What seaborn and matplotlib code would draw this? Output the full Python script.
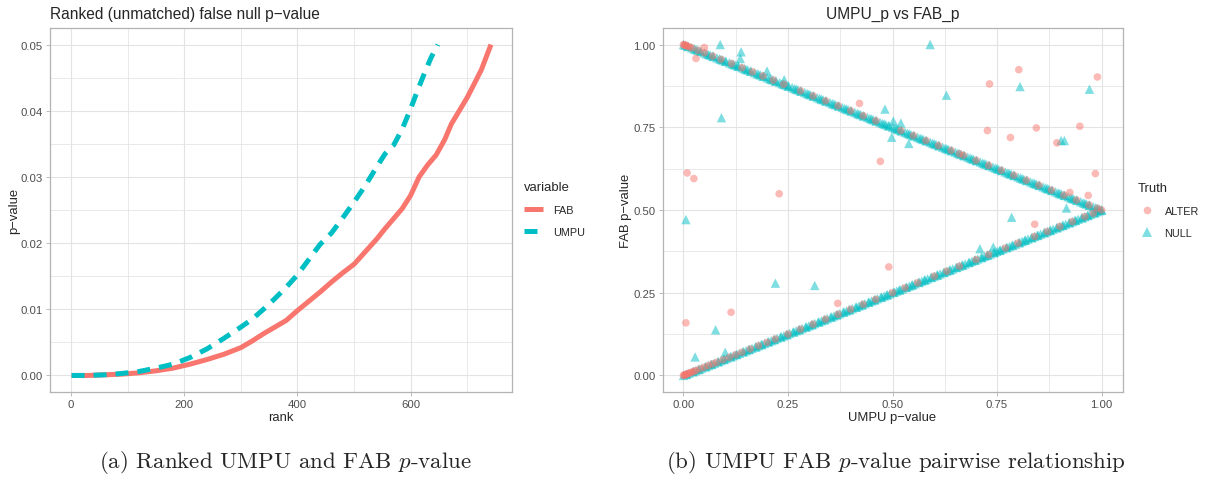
import matplotlib
matplotlib.use("Agg")
import matplotlib.pyplot as plt
import pandas as pd
import seaborn as sns
from matplotlib.lines import Line2D
from matplotlib.ticker import FixedLocator

sns.set_theme(style="whitegrid")
plt.rcParams["font.family"] = ["Liberation Sans", "DejaVu Sans"]
plt.rcParams["mathtext.fontset"] = "cm"
plt.rcParams["axes.unicode_minus"] = True

RED = "#F8766D"
TEAL = "#00BFC4"
GRID = "#E3E3E3"
BORDER = "#B3B3B3"
TICKTXT = "#4D4D4D"

# ---- ranked (unmatched) false-null p-values ----
fab_rank = [1, 30, 60, 90, 120, 150, 180, 210, 240, 270, 300, 320, 340, 360, 380,
            400, 420, 440, 460, 480, 500, 520, 540, 555, 570, 585, 600, 615, 630,
            645, 660, 672, 686, 700, 712, 725, 742]
fab_p = [0.0000, 0.0000, 0.0001, 0.0002, 0.0004, 0.0007, 0.0011, 0.0017, 0.0024,
         0.0032, 0.0042, 0.0052, 0.0063, 0.0073, 0.0083, 0.0098, 0.0112, 0.0126,
         0.0141, 0.0155, 0.0168, 0.0187, 0.0206, 0.0222, 0.0237, 0.0252, 0.0272,
         0.0300, 0.0318, 0.0333, 0.0356, 0.0380, 0.0400, 0.0420, 0.0440, 0.0462,
         0.0500]
umpu_rank = [1, 30, 60, 90, 120, 150, 180, 210, 240, 270, 300, 320, 340, 360, 380,
             400, 420, 440, 460, 480, 500, 520, 540, 555, 570, 585, 600, 612, 625,
             636, 648]
umpu_p = [0.0000, 0.0000, 0.0001, 0.0003, 0.0006, 0.0011, 0.0017, 0.0027, 0.0040,
          0.0056, 0.0073, 0.0085, 0.0100, 0.0116, 0.0133, 0.0152, 0.0175, 0.0198,
          0.0215, 0.0238, 0.0262, 0.0287, 0.0315, 0.0335, 0.0348, 0.0372, 0.0403,
          0.0430, 0.0458, 0.0480, 0.0500]

# ---- UMPU vs FAB p-values, (umpu, fab) pairs ----
null_upper = [
    (0.000, 1.000), (0.004, 0.998), (0.010, 0.995), (0.012, 0.994), (0.020, 0.990), (0.026, 0.987),
    (0.030, 0.985), (0.034, 0.983), (0.040, 0.980), (0.042, 0.979), (0.050, 0.975), (0.056, 0.972),
    (0.060, 0.970), (0.064, 0.968), (0.070, 0.965), (0.072, 0.964), (0.080, 0.960), (0.086, 0.957),
    (0.090, 0.955), (0.094, 0.953), (0.100, 0.950), (0.102, 0.949), (0.110, 0.945), (0.116, 0.942),
    (0.120, 0.940), (0.124, 0.938), (0.130, 0.935), (0.132, 0.934), (0.140, 0.930), (0.146, 0.927),
    (0.150, 0.925), (0.154, 0.923), (0.160, 0.920), (0.162, 0.919), (0.170, 0.915), (0.176, 0.912),
    (0.180, 0.910), (0.184, 0.908), (0.190, 0.905), (0.192, 0.904), (0.200, 0.900), (0.206, 0.897),
    (0.210, 0.895), (0.214, 0.893), (0.220, 0.890), (0.222, 0.889), (0.230, 0.885), (0.236, 0.882),
    (0.240, 0.880), (0.244, 0.878), (0.250, 0.875), (0.252, 0.874), (0.260, 0.870), (0.266, 0.867),
    (0.270, 0.865), (0.274, 0.863), (0.280, 0.860), (0.282, 0.859), (0.290, 0.855), (0.296, 0.852),
    (0.300, 0.850), (0.304, 0.848), (0.310, 0.845), (0.312, 0.844), (0.320, 0.840), (0.326, 0.837),
    (0.330, 0.835), (0.334, 0.833), (0.340, 0.830), (0.342, 0.829), (0.350, 0.825), (0.356, 0.822),
    (0.360, 0.820), (0.364, 0.818), (0.370, 0.815), (0.372, 0.814), (0.380, 0.810), (0.386, 0.807),
    (0.390, 0.805), (0.394, 0.803), (0.400, 0.800), (0.402, 0.799), (0.410, 0.795), (0.416, 0.792),
    (0.420, 0.790), (0.424, 0.788), (0.430, 0.785), (0.432, 0.784), (0.440, 0.780), (0.446, 0.777),
    (0.450, 0.775), (0.454, 0.773), (0.460, 0.770), (0.462, 0.769), (0.470, 0.765), (0.476, 0.762),
    (0.480, 0.760), (0.484, 0.758), (0.490, 0.755), (0.492, 0.754), (0.500, 0.750), (0.506, 0.747),
    (0.510, 0.745), (0.514, 0.743), (0.520, 0.740), (0.522, 0.739), (0.530, 0.735), (0.536, 0.732),
    (0.540, 0.730), (0.544, 0.728), (0.550, 0.725), (0.552, 0.724), (0.560, 0.720), (0.566, 0.717),
    (0.570, 0.715), (0.574, 0.713), (0.580, 0.710), (0.582, 0.709), (0.590, 0.705), (0.596, 0.702),
    (0.600, 0.700), (0.604, 0.698), (0.610, 0.695), (0.612, 0.694), (0.620, 0.690), (0.626, 0.687),
    (0.630, 0.685), (0.634, 0.683), (0.640, 0.680), (0.642, 0.679), (0.650, 0.675), (0.656, 0.672),
    (0.660, 0.670), (0.664, 0.668), (0.670, 0.665), (0.672, 0.664), (0.680, 0.660), (0.686, 0.657),
    (0.690, 0.655), (0.694, 0.653), (0.700, 0.650), (0.702, 0.649), (0.710, 0.645), (0.716, 0.642),
    (0.720, 0.640), (0.724, 0.638), (0.730, 0.635), (0.732, 0.634), (0.740, 0.630), (0.746, 0.627),
    (0.750, 0.625), (0.754, 0.623), (0.760, 0.620), (0.762, 0.619), (0.770, 0.615), (0.776, 0.612),
    (0.780, 0.610), (0.784, 0.608), (0.790, 0.605), (0.792, 0.604), (0.800, 0.600), (0.806, 0.597),
    (0.810, 0.595), (0.814, 0.593), (0.820, 0.590), (0.822, 0.589), (0.830, 0.585), (0.836, 0.582),
    (0.840, 0.580), (0.844, 0.578), (0.850, 0.575), (0.852, 0.574), (0.860, 0.570), (0.866, 0.567),
    (0.870, 0.565), (0.874, 0.563), (0.880, 0.560), (0.882, 0.559), (0.890, 0.555), (0.896, 0.552),
    (0.900, 0.550), (0.904, 0.548), (0.910, 0.545), (0.912, 0.544), (0.920, 0.540), (0.926, 0.537),
    (0.930, 0.535), (0.934, 0.533), (0.940, 0.530), (0.942, 0.529), (0.950, 0.525), (0.956, 0.522),
    (0.960, 0.520), (0.964, 0.518), (0.970, 0.515), (0.972, 0.514), (0.980, 0.510), (0.986, 0.507),
    (0.990, 0.505), (0.994, 0.503), (1.000, 0.500),
]
null_lower = [
    (0.000, 0.000), (0.006, 0.003), (0.008, 0.004), (0.014, 0.007), (0.022, 0.011), (0.024, 0.012),
    (0.030, 0.015), (0.036, 0.018), (0.038, 0.019), (0.044, 0.022), (0.052, 0.026), (0.054, 0.027),
    (0.060, 0.030), (0.066, 0.033), (0.068, 0.034), (0.074, 0.037), (0.082, 0.041), (0.084, 0.042),
    (0.090, 0.045), (0.096, 0.048), (0.098, 0.049), (0.104, 0.052), (0.112, 0.056), (0.114, 0.057),
    (0.120, 0.060), (0.126, 0.063), (0.128, 0.064), (0.134, 0.067), (0.142, 0.071), (0.144, 0.072),
    (0.150, 0.075), (0.156, 0.078), (0.158, 0.079), (0.164, 0.082), (0.172, 0.086), (0.174, 0.087),
    (0.180, 0.090), (0.186, 0.093), (0.188, 0.094), (0.194, 0.097), (0.202, 0.101), (0.204, 0.102),
    (0.210, 0.105), (0.216, 0.108), (0.218, 0.109), (0.224, 0.112), (0.232, 0.116), (0.234, 0.117),
    (0.240, 0.120), (0.246, 0.123), (0.248, 0.124), (0.254, 0.127), (0.262, 0.131), (0.264, 0.132),
    (0.270, 0.135), (0.276, 0.138), (0.278, 0.139), (0.284, 0.142), (0.292, 0.146), (0.294, 0.147),
    (0.300, 0.150), (0.306, 0.153), (0.308, 0.154), (0.314, 0.157), (0.322, 0.161), (0.324, 0.162),
    (0.330, 0.165), (0.336, 0.168), (0.338, 0.169), (0.344, 0.172), (0.352, 0.176), (0.354, 0.177),
    (0.360, 0.180), (0.366, 0.183), (0.368, 0.184), (0.374, 0.187), (0.382, 0.191), (0.384, 0.192),
    (0.390, 0.195), (0.396, 0.198), (0.398, 0.199), (0.404, 0.202), (0.412, 0.206), (0.414, 0.207),
    (0.420, 0.210), (0.426, 0.213), (0.428, 0.214), (0.434, 0.217), (0.442, 0.221), (0.444, 0.222),
    (0.450, 0.225), (0.456, 0.228), (0.458, 0.229), (0.464, 0.232), (0.472, 0.236), (0.474, 0.237),
    (0.480, 0.240), (0.486, 0.243), (0.488, 0.244), (0.494, 0.247), (0.502, 0.251), (0.504, 0.252),
    (0.510, 0.255), (0.516, 0.258), (0.518, 0.259), (0.524, 0.262), (0.532, 0.266), (0.534, 0.267),
    (0.540, 0.270), (0.546, 0.273), (0.548, 0.274), (0.554, 0.277), (0.562, 0.281), (0.564, 0.282),
    (0.570, 0.285), (0.576, 0.288), (0.578, 0.289), (0.584, 0.292), (0.592, 0.296), (0.594, 0.297),
    (0.600, 0.300), (0.606, 0.303), (0.608, 0.304), (0.614, 0.307), (0.622, 0.311), (0.624, 0.312),
    (0.630, 0.315), (0.636, 0.318), (0.638, 0.319), (0.644, 0.322), (0.652, 0.326), (0.654, 0.327),
    (0.660, 0.330), (0.666, 0.333), (0.668, 0.334), (0.674, 0.337), (0.682, 0.341), (0.684, 0.342),
    (0.690, 0.345), (0.696, 0.348), (0.698, 0.349), (0.704, 0.352), (0.712, 0.356), (0.714, 0.357),
    (0.720, 0.360), (0.726, 0.363), (0.728, 0.364), (0.734, 0.367), (0.742, 0.371), (0.744, 0.372),
    (0.750, 0.375), (0.756, 0.378), (0.758, 0.379), (0.764, 0.382), (0.772, 0.386), (0.774, 0.387),
    (0.780, 0.390), (0.786, 0.393), (0.788, 0.394), (0.794, 0.397), (0.802, 0.401), (0.804, 0.402),
    (0.810, 0.405), (0.816, 0.408), (0.818, 0.409), (0.824, 0.412), (0.832, 0.416), (0.834, 0.417),
    (0.840, 0.420), (0.846, 0.423), (0.848, 0.424), (0.854, 0.427), (0.862, 0.431), (0.864, 0.432),
    (0.870, 0.435), (0.876, 0.438), (0.878, 0.439), (0.884, 0.442), (0.892, 0.446), (0.894, 0.447),
    (0.900, 0.450), (0.906, 0.453), (0.908, 0.454), (0.914, 0.457), (0.922, 0.461), (0.924, 0.462),
    (0.930, 0.465), (0.936, 0.468), (0.938, 0.469), (0.944, 0.472), (0.952, 0.476), (0.954, 0.477),
    (0.960, 0.480), (0.966, 0.483), (0.968, 0.484), (0.974, 0.487), (0.982, 0.491), (0.984, 0.492),
    (0.990, 0.495), (0.996, 0.498), (1.000, 0.500),
]
null_scatter = [
    (0.088, 1.000), (0.138, 0.978), (0.136, 0.958), (0.091, 0.779), (0.200, 0.920),
    (0.241, 0.894), (0.482, 0.805), (0.498, 0.720), (0.502, 0.769), (0.520, 0.763),
    (0.539, 0.701), (0.590, 1.000), (0.805, 0.873), (0.971, 0.865), (0.629, 0.847),
    (0.903, 0.710), (0.911, 0.710), (0.006, 0.471), (0.077, 0.138), (0.028, 0.056),
    (0.100, 0.070), (0.220, 0.279), (0.314, 0.272), (0.785, 0.478), (0.916, 0.506),
    (0.709, 0.383), (0.741, 0.388),
]
alter_upper = [
    (0.000, 1.000), (0.002, 0.999), (0.004, 0.998), (0.007, 0.9965), (0.010, 0.995),
    (0.015, 0.9925), (0.02, 0.990), (0.035, 0.9825), (0.05, 0.975), (0.07, 0.965),
    (0.09, 0.955), (0.115, 0.9425), (0.14, 0.930), (0.165, 0.9175), (0.19, 0.905),
    (0.215, 0.8925), (0.24, 0.880), (0.28, 0.860), (0.31, 0.845), (0.34, 0.830),
    (0.37, 0.815), (0.40, 0.800), (0.43, 0.785), (0.46, 0.770), (0.52, 0.740),
    (0.55, 0.725), (0.58, 0.710), (0.61, 0.695), (0.64, 0.680), (0.66, 0.670),
    (0.67, 0.665), (0.70, 0.650), (0.73, 0.635), (0.76, 0.620), (0.79, 0.605),
    (0.82, 0.590), (0.85, 0.575), (0.88, 0.560), (0.91, 0.545), (0.94, 0.530),
    (0.97, 0.515), (0.99, 0.505),
]
alter_lower = [
    (0.000, 0.000), (0.002, 0.001), (0.004, 0.002), (0.006, 0.003), (0.009, 0.0045),
    (0.012, 0.006), (0.016, 0.008), (0.02, 0.010), (0.025, 0.0125), (0.03, 0.015),
    (0.04, 0.020), (0.05, 0.025), (0.06, 0.030), (0.07, 0.035), (0.08, 0.040),
    (0.095, 0.0475), (0.11, 0.055), (0.125, 0.0625), (0.14, 0.070), (0.16, 0.080),
    (0.18, 0.090), (0.20, 0.100), (0.22, 0.110), (0.25, 0.125), (0.28, 0.140),
    (0.31, 0.155), (0.34, 0.170), (0.37, 0.185), (0.40, 0.200), (0.43, 0.215),
    (0.46, 0.230), (0.50, 0.250), (0.53, 0.265), (0.56, 0.280), (0.60, 0.300),
    (0.63, 0.315), (0.66, 0.330), (0.70, 0.350), (0.73, 0.365), (0.77, 0.385),
    (0.80, 0.400), (0.84, 0.420), (0.87, 0.435), (0.90, 0.450), (0.93, 0.465),
    (0.96, 0.480), (0.98, 0.490), (1.00, 0.500),
]
alter_scatter = [
    (0.030, 0.958), (0.050, 0.991), (0.421, 0.822), (0.471, 0.647), (0.009, 0.612),
    (0.025, 0.595), (0.229, 0.549), (0.802, 0.924), (0.990, 0.902), (0.732, 0.881),
    (0.727, 0.740), (0.782, 0.719), (0.844, 0.748), (0.893, 0.703), (0.948, 0.753),
    (0.985, 0.610), (0.924, 0.553), (0.968, 0.544), (0.006, 0.159), (0.114, 0.191),
    (0.369, 0.218), (0.491, 0.328), (0.840, 0.457),
]

line_df = pd.concat([
    pd.DataFrame({"rank": fab_rank, "p": fab_p, "variable": "FAB"}),
    pd.DataFrame({"rank": umpu_rank, "p": umpu_p, "variable": "UMPU"}),
], ignore_index=True)


def pairs_frame(pairs, truth):
    return pd.DataFrame({"UMPU": [a for a, _ in pairs],
                         "FAB": [b for _, b in pairs],
                         "Truth": truth})


scatter_df = pd.concat([
    pairs_frame(null_upper, "NULL"), pairs_frame(null_lower, "NULL"),
    pairs_frame(null_scatter, "NULL"),
    pairs_frame(alter_upper, "ALTER"), pairs_frame(alter_lower, "ALTER"),
    pairs_frame(alter_scatter, "ALTER"),
], ignore_index=True)

fig = plt.figure(figsize=(12.08, 4.89), dpi=100)
fig.patch.set_facecolor("white")
ax1 = fig.add_axes([50 / 1208, 1 - 393 / 489, 462 / 1208, 364 / 489])
ax2 = fig.add_axes([662.5 / 1208, 1 - 393 / 489, 460 / 1208, 364 / 489])


def light_theme(ax):
    ax.set_facecolor("white")
    for sp in ax.spines.values():
        sp.set_visible(True)
        sp.set_color(BORDER)
        sp.set_linewidth(0.9)
    ax.grid(which="major", color=GRID, linewidth=0.8)
    ax.grid(which="minor", color=GRID, linewidth=0.55)
    ax.set_axisbelow(True)
    ax.tick_params(which="major", length=3, width=0.6, color=BORDER,
                   labelsize=8.2, labelcolor=TICKTXT, pad=2.2,
                   bottom=True, left=True)
    ax.tick_params(which="minor", length=0)


# left: ranked p-value curves
sns.lineplot(data=line_df, x="rank", y="p", hue="variable", style="variable",
             palette={"FAB": RED, "UMPU": TEAL},
             dashes={"FAB": "", "UMPU": (2.6, 1.8)},
             linewidth=3.6, estimator=None, sort=False, legend=False, ax=ax1,
             solid_capstyle="butt", dash_capstyle="butt")
light_theme(ax1)
ax1.set_xlim(-37.1, 779.1)
ax1.set_ylim(-0.0025, 0.0525)
ax1.xaxis.set_major_locator(FixedLocator([0, 200, 400, 600]))
ax1.xaxis.set_minor_locator(FixedLocator([100, 300, 500, 700]))
ax1.yaxis.set_major_locator(FixedLocator([0, 0.01, 0.02, 0.03, 0.04, 0.05]))
ax1.yaxis.set_minor_locator(FixedLocator([0.005, 0.015, 0.025, 0.035, 0.045]))
ax1.set_xticklabels(["0", "200", "400", "600"])
ax1.set_yticklabels(["0.00", "0.01", "0.02", "0.03", "0.04", "0.05"])
ax1.set_xlabel("rank", fontsize=9.4, labelpad=1)
ax1.set_ylabel("p\u2212value", fontsize=9.4, labelpad=0.5)
ax1.set_title("Ranked (unmatched) false null p\u2212value", loc="left",
              fontsize=11.2, pad=7)

leg1 = fig.legend(
    handles=[Line2D([0], [0], color=RED, lw=3.6, solid_capstyle="butt"),
             Line2D([0], [0], color=TEAL, lw=3.6, dashes=(2.6, 1.8),
                    dash_capstyle="butt")],
    labels=["FAB", "UMPU"], title="variable", loc="upper left",
    bbox_to_anchor=(524 / 1208, 1 - 182 / 489), frameon=False, fontsize=7.8,
    title_fontsize=9.4, alignment="left", handlelength=1.75, handletextpad=0.9,
    labelspacing=1.12, borderpad=0, borderaxespad=0)

# right: pairwise scatter
sns.scatterplot(data=scatter_df, x="UMPU", y="FAB", hue="Truth", style="Truth",
                size="Truth",
                hue_order=["ALTER", "NULL"], style_order=["ALTER", "NULL"],
                size_order=["ALTER", "NULL"],
                sizes={"ALTER": 30, "NULL": 46},
                palette={"ALTER": RED, "NULL": TEAL},
                markers={"ALTER": "o", "NULL": "^"}, alpha=0.5,
                linewidth=0, legend=False, ax=ax2)
light_theme(ax2)
ticks = [0, 0.25, 0.5, 0.75, 1.0]
ax2.set_xlim(-0.05, 1.05)
ax2.set_ylim(-0.05, 1.05)
ax2.xaxis.set_major_locator(FixedLocator(ticks))
ax2.yaxis.set_major_locator(FixedLocator(ticks))
ax2.xaxis.set_minor_locator(FixedLocator([0.125, 0.375, 0.625, 0.875]))
ax2.yaxis.set_minor_locator(FixedLocator([0.125, 0.375, 0.625, 0.875]))
ax2.set_xticklabels(["0.00", "0.25", "0.50", "0.75", "1.00"])
ax2.set_yticklabels(["0.00", "0.25", "0.50", "0.75", "1.00"])
ax2.set_xlabel("UMPU p\u2212value", fontsize=9.4, labelpad=1)
ax2.set_ylabel("FAB p\u2212value", fontsize=9.4, labelpad=0.5)
ax2.set_title("UMPU_p vs FAB_p", fontsize=11.2, pad=7)

leg2 = fig.legend(
    handles=[Line2D([0], [0], marker="o", color=RED, alpha=0.5, lw=0,
                    markersize=5.5, markeredgewidth=0),
             Line2D([0], [0], marker="^", color=TEAL, alpha=0.5, lw=0,
                    markersize=6.8, markeredgewidth=0)],
    labels=["ALTER", "NULL"], title="Truth", loc="upper left",
    bbox_to_anchor=(1138 / 1208, 1 - 183 / 489), frameon=False, fontsize=7.8,
    title_fontsize=9.4, alignment="left", handlelength=1.75, handletextpad=0.7,
    labelspacing=1.12, borderpad=0, borderaxespad=0)

# sub-figure captions
fig.text(285 / 1208, 1 - 463 / 489, r"(a) Ranked UMPU and FAB $p$-value",
         fontfamily="cmr10", fontsize=16.5, ha="center", va="center")
fig.text(896 / 1208, 1 - 463 / 489,
         r"(b) UMPU FAB $p$-value pairwise relationship",
         fontfamily="cmr10", fontsize=16.5, ha="center", va="center")

fig.savefig("out.png", dpi=100, facecolor="white")
